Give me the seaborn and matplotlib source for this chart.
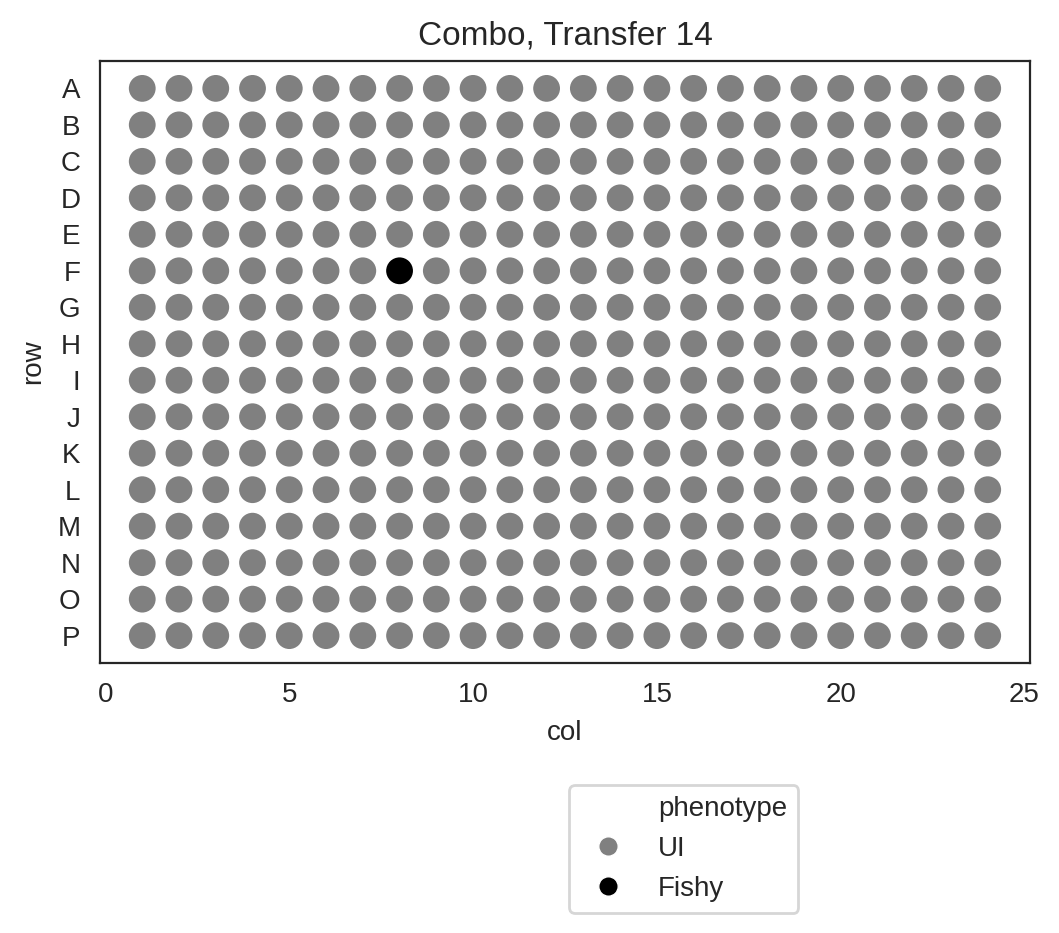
import pandas as pd
import matplotlib
matplotlib.use("Agg")
import matplotlib.pyplot as plt
from matplotlib.lines import Line2D
import seaborn as sns

# --- plate layout (384 wells) ---
rows = list("ABCDEFGHIJKLMNOP")
cols = list(range(1, 25))
fishy_wells = [("F", 8)]
phenotypes = ["UI", "Fishy"]
colors = ["grey", "black"]

records = []
for r in rows:
    for c in cols:
        pheno = "Fishy" if (r, c) in fishy_wells else "UI"
        records.append({"row": r, "col": c, "phenotype": pheno})
df = pd.DataFrame(records)

sns.set_style("white")
plt.rcParams["font.family"] = ["Liberation Sans", "DejaVu Sans"]

fig = plt.figure(figsize=(1059 / 200, 933 / 200), dpi=200)
ax = fig.add_axes([0.0944, 0.2894, 0.8782, 0.6452])

sns.scatterplot(data=df, x="col", y="row", hue="phenotype",
                hue_order=phenotypes, palette=colors, s=105,
                linewidth=0.6, edgecolor="white", ax=ax, legend=False)

lo, hi = ax.get_ylim()
ax.set_ylim(max(lo, hi), min(lo, hi))
ax.set_xticks([0, 5, 10, 15, 20, 25])
ax.set_title("Combo, Transfer 14", fontsize=12)
ax.set_xlabel("col", fontsize=10)
ax.set_ylabel("row", fontsize=10)
ax.tick_params(labelsize=10)

# legend in the old seaborn style: title as a blank entry
handles = [Line2D([], [], linestyle="", marker="")]
for col in colors:
    handles.append(Line2D([], [], linestyle="", marker="o", markersize=7,
                          markerfacecolor=col, markeredgecolor="white",
                          markeredgewidth=0.5))
labels = ["phenotype"] + phenotypes
fig.legend(handles, labels, loc="upper left",
           bbox_to_anchor=(569 / 1059, (933 - 785) / 933),
           borderaxespad=0, fontsize=10)

fig.savefig("out.png", dpi=200)
